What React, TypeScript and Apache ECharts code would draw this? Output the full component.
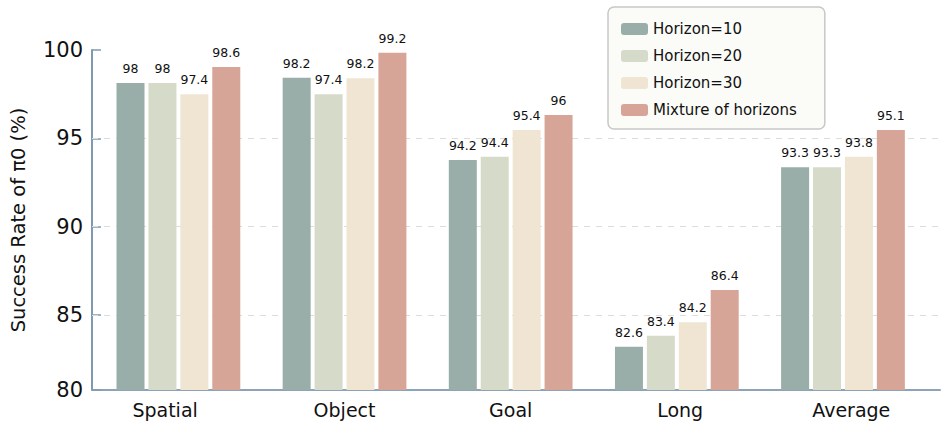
import React, { useEffect, useRef } from "react";
import * as echarts from "echarts";

const categories = ["Spatial", "Object", "Goal", "Long", "Average"];
const seriesNames = ["Horizon=10", "Horizon=20", "Horizon=30", "Mixture of horizons"];
// bar heights as drawn in the picture
const h10 = [98.13, 98.43, 93.77, 83.21, 93.36];
const h20 = [98.13, 97.49, 93.96, 83.83, 93.36];
const h30 = [97.49, 98.4, 95.47, 84.59, 93.96];
const hMix = [99.04, 99.85, 96.32, 86.42, 95.47];
// value labels as printed in the picture
const l10 = ["98", "98.2", "94.2", "82.6", "93.3"];
const l20 = ["98", "97.4", "94.4", "83.4", "93.3"];
const l30 = ["97.4", "98.2", "95.4", "84.2", "93.8"];
const lMix = ["98.6", "99.2", "96", "86.4", "95.1"];
// where the category names sit (slightly off the group centres in the picture)
const categoryLabelPos = [-0.08, 1.0, 2.0, 3.02, 4.05];
const yTickValues = [80.76, 85, 90, 95, 100];
const yTickLabels = ["80", "85", "90", "95", "100"];
const gridValues = [85, 90, 95];

const colors = ["#9aaea9", "#d5dbc8", "#f0e5d2", "#d6a598"];
const FONT = "DejaVu Sans";
const AXIS = "#7f9ab0";

export default function App() {
  const ref = useRef<HTMLDivElement>(null);
  useEffect(() => {
    if (!ref.current) return;
    const chart = echarts.init(ref.current, null, { renderer: "svg" });
    const heights = [h10, h20, h30, hMix];
    const labels = [l10, l20, l30, lMix];
    const series: any[] = heights.map((hs, si) => ({
      name: seriesNames[si],
      type: "bar",
      barWidth: 28,
      barGap: "14%",
      data: hs.map((v, i) => [i, v]),
      itemStyle: { color: colors[si] },
      label: {
        show: true,
        position: "top",
        distance: 8,
        fontFamily: FONT,
        fontSize: 12.5,
        color: "#111",
        formatter: (p: any) => labels[si][p.dataIndex],
      },
      ...(si === 0
        ? {
            markLine: {
              silent: true,
              symbol: "none",
              z: 1,
              label: { show: false },
              lineStyle: { type: [6, 6], color: "#dcdcdc", width: 1 },
              data: gridValues.map((g) => ({ yAxis: g })),
            },
          }
        : {}),
    }));
    chart.setOption({
      animation: false,
      backgroundColor: "#ffffff",
      grid: { left: 89, right: 6, top: 50, bottom: 43 },
      legend: {
        orient: "vertical",
        left: 608,
        top: 7,
        padding: [14, 28, 11, 13],
        itemWidth: 27,
        itemHeight: 12,
        itemGap: 11,
        icon: "roundRect",
        backgroundColor: "#fbfbf8",
        borderColor: "#c8c8c8",
        borderWidth: 1.5,
        borderRadius: 6,
        textStyle: { fontFamily: FONT, fontSize: 15, lineHeight: 16, color: "#111" },
        data: seriesNames,
      },
      xAxis: {
        type: "value",
        min: -0.52,
        max: 4.584,
        axisLine: { show: true, onZero: false, lineStyle: { color: "#8ca3b8", width: 2 } },
        axisTick: { show: false },
        splitLine: { show: false },
        axisLabel: {
          customValues: categoryLabelPos,
          formatter: (v: number) => {
            const i = categoryLabelPos.findIndex((t) => Math.abs(t - v) < 1e-6);
            return i >= 0 ? categories[i] : "";
          },
          fontFamily: FONT,
          fontSize: 19,
          color: "#111",
          margin: 10,
        },
      },
      yAxis: {
        type: "value",
        min: 80.76,
        max: 100,
        name: "Success Rate of π0 (%)",
        nameLocation: "middle",
        nameGap: 64,
        nameTextStyle: { fontFamily: FONT, fontSize: 19.5, color: "#111" },
        axisLine: { show: true, onZero: false, lineStyle: { color: AXIS, width: 2 } },
        axisTick: {
          show: true,
          inside: true,
          length: 9,
          customValues: yTickValues,
          lineStyle: { color: AXIS, width: 1.5 },
        },
        splitLine: { show: false },
        axisLabel: {
          customValues: yTickValues,
          formatter: (v: number) => {
            const i = yTickValues.findIndex((t) => Math.abs(t - v) < 1e-6);
            return i >= 0 ? yTickLabels[i] : "";
          },
          fontFamily: FONT,
          fontSize: 21,
          color: "#111",
          margin: 9,
        },
      },
      series,
    });
    return () => chart.dispose();
  }, []);
  return (
    <div
      ref={ref}
      style={{ position: "fixed", left: 0, top: 0, width: 946, height: 433 }}
    />
  );
}
